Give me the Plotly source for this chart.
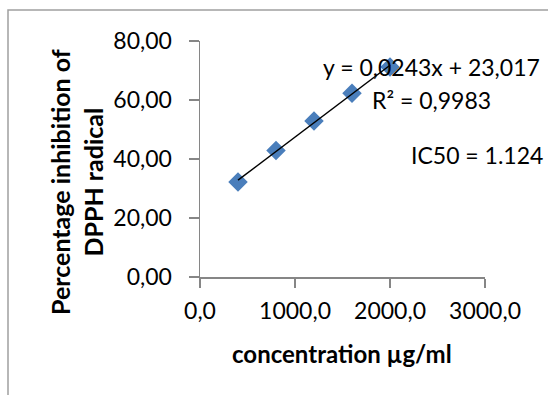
import numpy as np
import plotly.graph_objects as go

# Data
concentration = [400, 800, 1200, 1600, 2000]
inhibition = [32.2, 42.9, 52.9, 62.3, 71.2]

x_tick_vals = [0, 1000, 2000, 3000]
x_tick_text = ["0,0", "1000,0", "2000,0", "3000,0"]
y_tick_vals = [0, 20, 40, 60, 80]
y_tick_text = ["0,00", "20,00", "40,00", "60,00", "80,00"]

eq_text = "y = 0,0243x + 23,017"
r2_text = "R² = 0,9983"
ic50_text = "IC50 = 1.124"

# Linear trendline from the data
slope, intercept = np.polyfit(concentration, inhibition, 1)
trend_x = [min(concentration), max(concentration)]
trend_y = [slope * v + intercept for v in trend_x]

FONT = "Lato, 'Open Sans', sans-serif"
AXIS_COLOR = "#868686"

fig = go.Figure()
fig.add_trace(go.Scatter(
    x=concentration, y=inhibition, mode="markers",
    marker=dict(symbol="diamond", size=15, color="#4A7EBB"),
    cliponaxis=False, showlegend=False,
))
fig.add_trace(go.Scatter(
    x=trend_x, y=trend_y, mode="lines",
    line=dict(color="black", width=1.5),
    cliponaxis=False, showlegend=False,
))

W, H = 548, 395
L, R, T, B = 200, 63, 41, 118
pw, ph = W - L - R, H - T - B

def px(xp):
    return (xp - L) / pw

def py(yp):
    return (H - B - yp) / ph

fig.update_layout(
    width=W, height=H,
    margin=dict(l=L, r=R, t=T, b=B),
    plot_bgcolor="white", paper_bgcolor="white",
    font=dict(family=FONT, size=24, color="black"),
    xaxis=dict(
        range=[0, 3000], tickvals=x_tick_vals, ticktext=x_tick_text,
        showgrid=False, zeroline=False, showline=True, linecolor=AXIS_COLOR,
        linewidth=1.5, ticks="outside", ticklen=9, tickcolor=AXIS_COLOR,
        tickwidth=1.5, tickfont=dict(size=23), fixedrange=True,
        ticklabelstandoff=4,
    ),
    yaxis=dict(
        range=[0, 80], tickvals=y_tick_vals, ticktext=y_tick_text,
        showgrid=False, zeroline=False, showline=True, linecolor=AXIS_COLOR,
        linewidth=1.5, ticks="outside", ticklen=10, tickcolor=AXIS_COLOR,
        tickwidth=1.5, tickfont=dict(size=23), fixedrange=True,
        ticklabelstandoff=12,
    ),
    shapes=[dict(
        type="rect", xref="paper", yref="paper",
        x0=px(8), x1=px(570), y0=py(420), y1=py(10),
        line=dict(color="#a0a0a0", width=1.5), fillcolor="rgba(0,0,0,0)",
        layer="below",
    )],
    annotations=[
        dict(text="<b>concentration µg/ml</b>", xref="paper", yref="paper",
             x=px(342), y=py(353), xanchor="center", yanchor="middle",
             showarrow=False, font=dict(size=24)),
        dict(text="<b>Percentage inhibition of<br>DPPH radical</b>",
             xref="paper", yref="paper", x=px(76), y=py(182),
             xanchor="center", yanchor="middle", textangle=-90,
             showarrow=False, font=dict(size=25)),
        dict(text=eq_text, xref="paper", yref="paper", x=px(542), y=py(67),
             xanchor="right", yanchor="middle", showarrow=False,
             font=dict(size=23)),
        dict(text=r2_text, xref="paper", yref="paper", x=px(493), y=py(100),
             xanchor="right", yanchor="middle", showarrow=False,
             font=dict(size=23)),
        dict(text=ic50_text, xref="paper", yref="paper", x=px(545), y=py(155),
             xanchor="right", yanchor="middle", showarrow=False,
             font=dict(size=23)),
    ],
)

fig.write_html(
    "out.html",
    config={"displayModeBar": False, "staticPlot": True},
    post_script="document.body.style.margin='0';document.body.style.overflow='hidden';",
)
